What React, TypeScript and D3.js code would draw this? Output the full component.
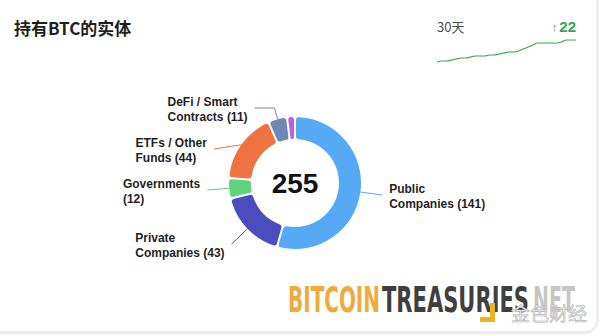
import React from "react";
import * as d3 from "d3";

// ---- data ----
const categories = [
  "Public Companies",
  "Private Companies",
  "Governments",
  "ETFs / Other Funds",
  "DeFi / Smart Contracts",
  "Other",
];
const holders = [141, 43, 12, 44, 11, 4];
const sliceColors = ["#56a9f5", "#4b4dbf", "#5fd47c", "#ef7341", "#6f86b8", "#bb5fe8"];
const sparkValues = [
  233, 234, 234, 235, 236, 237, 237, 238, 239, 239, 239, 240, 240, 241, 242,
  243, 243, 244, 246, 248, 250, 252, 252, 252, 252, 252, 253, 255, 255, 255,
];
const titleText = "持有BTC的实体";
const periodText = "30天";
const changeValue = 22;

const W = 600;
const H = 336;
const LATIN = "'Liberation Sans', Arial, Helvetica, sans-serif";
const CJK = "'Noto Sans CJK SC', 'Liberation Sans', sans-serif";

let ctx: CanvasRenderingContext2D | null = null;
function measure(text: string, font: string) {
  if (!ctx) ctx = document.createElement("canvas").getContext("2d");
  if (!ctx) return text.length * 7;
  ctx.font = font;
  return ctx.measureText(text).width;
}

function splitLabel(name: string, value: number): [string, string] {
  const words = name.split(" ");
  if (words.length === 1) return [name, `(${value})`];
  const last = words.pop() as string;
  return [words.join(" "), `${last} (${value})`];
}

export default function App() {
  const cx = 295, cy = 183, rO = 66, rI = 44, rL = 88;
  const minLabelY = 108, labelGap = 41;

  const pie = d3.pie<number>().sort(null).value((d) => d).padAngle(0.025);
  const arcs = pie(holders);
  const arcGen = d3
    .arc<d3.PieArcDatum<number>>()
    .innerRadius(rI)
    .outerRadius(rO)
    .cornerRadius(3);
  const total = d3.sum(holders);

  // label layout
  type Lab = { i: number; mid: number; side: number; y: number; natY: number };
  const labs: Lab[] = arcs
    .map((a, i) => {
      const mid = (a.startAngle + a.endAngle) / 2;
      const side = Math.sin(mid) >= 0 ? 1 : -1;
      const natY = cy - rL * Math.cos(mid);
      return { i, mid, side, natY, y: natY };
    })
    .filter((l) => holders[l.i] / total >= 0.03);
  [1, -1].forEach((s) => {
    const group = labs.filter((l) => l.side === s).sort((a, b) => a.natY - b.natY);
    group.forEach((l, k) => {
      l.y = Math.max(l.natY, k === 0 ? minLabelY : group[k - 1].y + labelGap);
    });
  });

  const labelFont = `bold 12px ${LATIN}`;
  const labelEls = labs.map((l) => {
    const sin = Math.sin(l.mid), cos = Math.cos(l.mid);
    const p0: [number, number] = [cx + rO * sin, cy - rO * cos];
    const dy = l.y - cy;
    let ax = cx + l.side * Math.sqrt(Math.max(0, rL * rL - dy * dy));
    const pts: [number, number][] = [p0];
    const k = -cos;
    if (Math.abs(k) > 1e-3) {
      const dr = (l.y - p0[1]) / k;
      if (dr > 0.5 && dr <= 25) {
        const ex = p0[0] + sin * dr;
        pts.push([ex, l.y]);
        ax = l.side < 0 ? Math.max(ax, ex - 20) : Math.min(ax, ex + 20);
      }
    }
    pts.push([ax, l.y]);
    const [l1, l2] = splitLabel(categories[l.i], holders[l.i]);
    const bw = Math.max(measure(l1, labelFont), measure(l2, labelFont));
    const tx = l.side > 0 ? ax + 7 : ax - 7 - bw;
    return (
      <g key={l.i}>
        <polyline
          points={pts.map((p) => p.join(",")).join(" ")}
          fill="none"
          stroke={sliceColors[l.i]}
          strokeWidth={1}
        />
        <text x={tx} y={l.y - 2} fontFamily={LATIN} fontWeight="bold" fontSize={12} fill="#1f1f1f">
          {l1}
        </text>
        <text x={tx} y={l.y + 13} fontFamily={LATIN} fontWeight="bold" fontSize={12} fill="#1f1f1f">
          {l2}
        </text>
      </g>
    );
  });

  // sparkline
  const sx = d3.scaleLinear().domain([0, sparkValues.length - 1]).range([437, 576]);
  const sy = d3.scaleLinear().domain([d3.min(sparkValues) as number, d3.max(sparkValues) as number]).range([62, 40]);
  const sparkPath = d3
    .line<number>()
    .x((_, i) => sx(i))
    .y((d) => sy(d))
    .curve(d3.curveMonotoneX)(sparkValues) as string;

  return (
    <div style={{ position: "absolute", left: 0, top: 0 }}>
      <svg width={W} height={H} viewBox={`0 0 ${W} ${H}`} style={{ display: "block" }}>
        <defs>
          <filter id="sh" x="-5%" y="-5%" width="110%" height="110%">
            <feDropShadow dx="0" dy="1" stdDeviation="1.5" floodColor="#000" floodOpacity="0.12" />
          </filter>
        </defs>
        <rect x={0} y={0} width={W} height={H} fill="#ffffff" />
        <rect
          x={-14}
          y={-14}
          width={611}
          height={346}
          rx={12}
          fill="#ffffff"
          stroke="#e2e2e2"
          strokeWidth={1}
          filter="url(#sh)"
        />

        <text x={14} y={35} fontFamily={CJK} fontWeight="bold" fontSize={17} fill="#1e1e1e">
          {titleText}
        </text>

        <text x={437} y={32} fontFamily={CJK} fontSize={13} fill="#4a4a4a">
          {periodText}
        </text>
        <text x={576} y={32} textAnchor="end" fill="#3aa650">
          <tspan fontFamily={LATIN} fontSize={12}>↑</tspan>
          <tspan fontFamily={LATIN} fontWeight="bold" fontSize={15} dx={2}>
            {changeValue}
          </tspan>
        </text>
        <path d={sparkPath} fill="none" stroke="#3aa650" strokeWidth={1.2} />

        <g transform={`translate(${cx},${cy})`}>
          {arcs.map((a, i) => (
            <path key={i} d={arcGen(a) as string} fill={sliceColors[i]} />
          ))}
          <text
            x={0}
            y={10}
            textAnchor="middle"
            fontFamily={LATIN}
            fontWeight="bold"
            fontSize={28}
            fill="#111"
          >
            {total}
          </text>
        </g>
        {labelEls}

        {/* watermark logos */}
        <g fontFamily="'Liberation Sans Narrow', 'DejaVu Sans Condensed', 'Liberation Sans', sans-serif" fontWeight="bold" fontSize={36}>
          <text x={288} y={312} fill="#f2a93b" textLength={92} lengthAdjust="spacingAndGlyphs">BITCOIN</text>
          <text x={382} y={312} fill="#3f3f3f" textLength={147} lengthAdjust="spacingAndGlyphs">TREASURIES</text>
          <text x={533} y={312} fill="#c6c6c6" textLength={42} lengthAdjust="spacingAndGlyphs">NET</text>
        </g>
        <path d="M490,303 h5 v19 h-15 v-5 h10 z" fill="#f0b21c" />
        <text
          x={511}
          y={321}
          fontFamily={CJK}
          fontSize={19}
          fill="#ececec"
          stroke="#b5b5b5"
          strokeWidth={0.6}
          textLength={76}
          lengthAdjust="spacingAndGlyphs"
        >
          金色财经
        </text>
      </svg>
    </div>
  );
}
